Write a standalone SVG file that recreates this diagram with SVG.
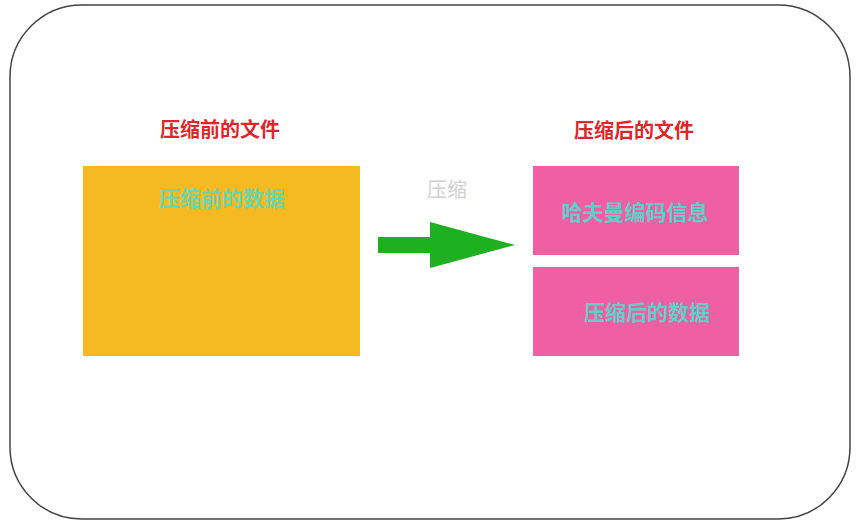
<svg xmlns="http://www.w3.org/2000/svg" width="859" height="527" viewBox="0 0 859 527">
<style>
text{font-family:"Liberation Sans","Noto Sans CJK SC",sans-serif;font-weight:bold;text-anchor:middle;dominant-baseline:central}
.t{font-size:20px;fill:#e0252a}
.in{font-size:21px;fill:#5fcfc8}
</style>
<rect x="10" y="5" width="840" height="514" rx="72" fill="#fff" stroke="#444" stroke-width="1.5"/>
<g id="before"><text class="t" x="220" y="130">压缩前的文件</text>
<rect x="83" y="166" width="277" height="190" fill="#f5b922"/>
<text class="in" x="222" y="198" style="fill:#6fd4a8">压缩前的数据</text></g>
<g id="connectors"><polygon points="378,237 430,237 430,222 515,245 430,268 430,253 378,253" fill="#1fb022"/>
<text x="447" y="190" style="font-size:20px;fill:#d0d0d0;font-weight:normal">压缩</text></g>
<g id="after"><text class="t" x="634" y="131">压缩后的文件</text>
<rect x="533" y="166" width="206" height="89" fill="#ef5fa4"/>
<text class="in" x="635" y="212">哈夫曼编码信息</text>
<rect x="533" y="267" width="206" height="89" fill="#ef5fa4"/>
<text class="in" x="647" y="312">压缩后的数据</text></g>
</svg>
